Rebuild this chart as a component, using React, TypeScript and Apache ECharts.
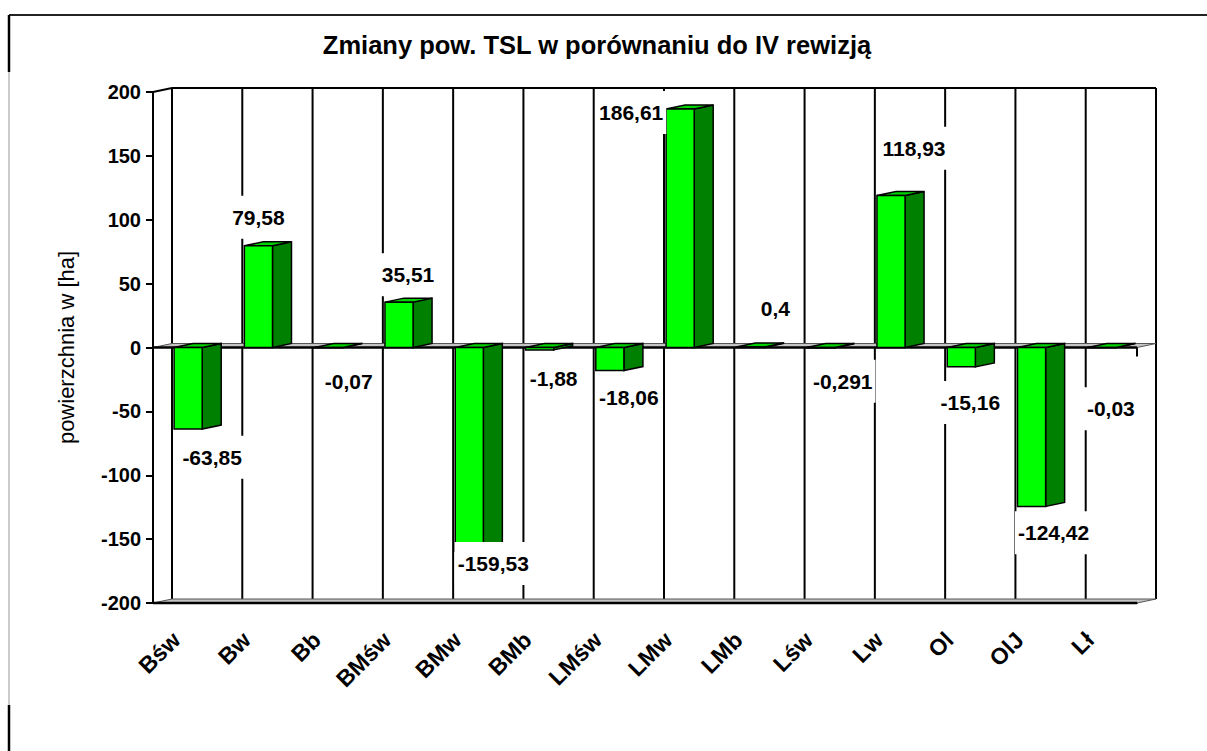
import React, { useEffect, useRef } from "react";
import * as echarts from "echarts";

const chartTitle = "Zmiany pow. TSL w porównaniu do IV rewizją";
const yAxisName = "powierzchnia w [ha]";
const categories = ["Bśw", "Bw", "Bb", "BMśw", "BMw", "BMb", "LMśw", "LMw", "LMb", "Lśw", "Lw", "Ol", "OlJ", "Lł"];
const values = [-63.85, 79.58, -0.07, 35.51, -159.53, -1.88, -18.06, 186.61, 0.4, -0.291, 118.93, -15.16, -124.42, -0.03];
const valueLabels = values.map((v) => String(v).replace(".", ","));
// where each value label sits, in axis units
const labelAt = [-86, 102, -26.5, 57, -169, -24.5, -39, 184, 30.5, -26.5, 156, -43, -145, -48];
// horizontal shift of each label from its category centre, px
const labelDx = [24, 0, 20, 9, 24, 14, 19, -49, 25, 22, 23, 9, 22, 9];

const Y_MIN = -200;
const Y_MAX = 200;
const Y_STEP = 50;

const DX = 19;
const DY = -4;
const FRONT = "#00ff00";
const SIDE = "#008000";
const TOP = "#00d400";
const FONT = '"Liberation Sans", Arial, sans-serif';

export default function App() {
  const ref = useRef<HTMLDivElement>(null);
  useEffect(() => {
    const chart = echarts.init(ref.current as HTMLDivElement, null, { renderer: "svg" });
    const n = categories.length;

    const wallSeries = {
      type: "custom",
      z: 1,
      data: [[0, 0]],
      renderItem: (params: any, api: any) => {
        const band = api.size([1, 0])[0];
        const yTop = api.coord([0, Y_MAX])[1];
        const yBot = api.coord([0, Y_MIN])[1];
        const yZero = api.coord([0, 0])[1];
        const xL = api.coord([0, 0])[0] - band / 2;
        const xR = api.coord([n - 1, 0])[0] + band / 2;
        const line = { stroke: "#000", lineWidth: 2 };
        const children: any[] = [];
        for (let i = 0; i <= n; i++) {
          const x = (i < n ? api.coord([i, 0])[0] - band / 2 : xR) + DX;
          children.push({ type: "line", shape: { x1: x, y1: yTop + DY, x2: x, y2: yBot + DY }, style: line });
        }
        children.push({ type: "line", shape: { x1: xL + DX, y1: yTop + DY, x2: xR + DX, y2: yTop + DY }, style: line });
        children.push({ type: "line", shape: { x1: xL, y1: yTop, x2: xL + DX, y2: yTop + DY }, style: line });
        [yBot, yZero].forEach((y) => {
          children.push({
            type: "polygon",
            shape: { points: [[xL, y], [xR, y], [xR + DX, y + DY], [xL + DX, y + DY]] },
            style: { fill: "#c4c4c4", stroke: "#555", lineWidth: 1 },
          });
          children.push({ type: "line", shape: { x1: xL, y1: y, x2: xR, y2: y }, style: { stroke: "#000", lineWidth: 2.5 } });
        });
        children.push({ type: "line", shape: { x1: xR, y1: yZero, x2: xR, y2: yZero + 9 }, style: line });
        return { type: "group", children };
      },
    };

    const barSeries = {
      type: "custom",
      z: 2,
      data: values.map((v, i) => [i, v]),
      renderItem: (params: any, api: any) => {
        const i = api.value(0);
        const v = api.value(1);
        const [cx, yv] = api.coord([i, v]);
        const y0 = api.coord([i, 0])[1];
        const band = api.size([1, 0])[0];
        const hw = band * 0.2;
        const yT = Math.min(yv, y0);
        const yB = Math.max(yv, y0);
        const st = { stroke: "#000", lineWidth: 1.5 };
        return {
          type: "group",
          children: [
            {
              type: "polygon",
              shape: { points: [[cx + hw, yT], [cx + hw + DX, yT + DY], [cx + hw + DX, yB + DY], [cx + hw, yB]] },
              style: { fill: SIDE, ...st },
            },
            {
              type: "polygon",
              shape: { points: [[cx - hw, yT], [cx - hw + DX, yT + DY], [cx + hw + DX, yT + DY], [cx + hw, yT]] },
              style: { fill: TOP, ...st },
            },
            { type: "rect", shape: { x: cx - hw, y: yT, width: 2 * hw, height: yB - yT }, style: { fill: FRONT, ...st } },
          ],
        };
      },
    };

    const labelSeries = {
      type: "custom",
      z: 3,
      data: labelAt.map((v, i) => [i, v]),
      renderItem: (params: any, api: any) => {
        const i = api.value(0);
        const [x, y] = api.coord([i, api.value(1)]);
        return {
          type: "text",
          x: x + labelDx[i],
          y,
          style: {
            text: valueLabels[i],
            align: "center",
            verticalAlign: "middle",
            font: `bold 21px ${FONT}`,
            fill: "#000",
            backgroundColor: "#fff",
            padding: [11, 3],
          },
        };
      },
    };

    chart.setOption({
      animation: false,
      backgroundColor: "#fff",
      grid: { left: 153, top: 92, width: 984, height: 511 },
      xAxis: {
        type: "category",
        data: categories,
        axisLine: { onZero: false, lineStyle: { color: "#000", width: 2 } },
        axisTick: { length: 10, lineStyle: { color: "#000", width: 2 } },
        axisLabel: {
          interval: 0,
          rotate: 45,
          margin: 21,
          padding: [0, 17, 0, 0],
          color: "#000",
          fontSize: 23,
          fontWeight: "bold",
          fontFamily: FONT,
        },
        splitLine: { show: false },
      },
      yAxis: {
        type: "value",
        min: Y_MIN,
        max: Y_MAX,
        interval: Y_STEP,
        name: yAxisName,
        nameLocation: "middle",
        nameGap: 76,
        nameTextStyle: { color: "#000", fontSize: 22, fontFamily: FONT },
        axisLine: { show: true, lineStyle: { color: "#000", width: 2 } },
        axisTick: { show: true, length: 7, lineStyle: { color: "#000", width: 2 } },
        axisLabel: { margin: 12, color: "#000", fontSize: 20, fontWeight: "bold", fontFamily: FONT },
        splitLine: { show: false },
      },
      graphic: [
        { type: "line", shape: { x1: 9, y1: 15, x2: 1207, y2: 15 }, style: { stroke: "#222", lineWidth: 2 } },
        { type: "line", shape: { x1: 9, y1: 15, x2: 9, y2: 72 }, style: { stroke: "#000", lineWidth: 2.5 } },
        { type: "line", shape: { x1: 9, y1: 72, x2: 9, y2: 705 }, style: { stroke: "#999", lineWidth: 1 } },
        { type: "line", shape: { x1: 9, y1: 705, x2: 9, y2: 751 }, style: { stroke: "#000", lineWidth: 2.5 } },
        {
          type: "text",
          x: 597,
          y: 45,
          style: { text: chartTitle, align: "center", verticalAlign: "middle", font: `bold 25.5px ${FONT}`, fill: "#000" },
        },
      ],
      series: [wallSeries, barSeries, labelSeries],
    });
    return () => chart.dispose();
  }, []);
  return <div ref={ref} style={{ position: "fixed", left: 0, top: 0, width: 1207, height: 751 }} />;
}
